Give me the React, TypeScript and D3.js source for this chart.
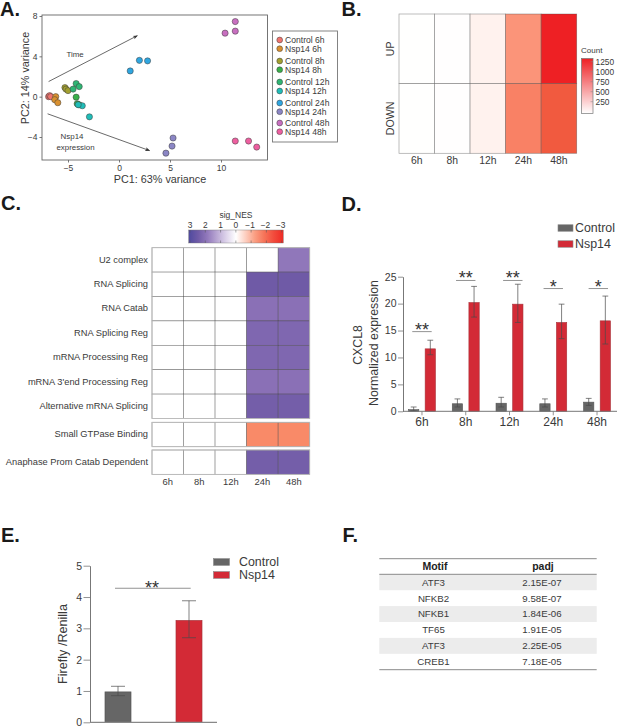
import React, { useEffect, useRef } from 'react';
import * as d3 from 'd3';

const FONT = '"Liberation Sans", Arial, sans-serif';
const TEXT = '#3a3a3a';
const GREY = '#666666';
const RED = '#d32a36';

// A: PCA
const pcaGroups = ['Control 6h', 'Nsp14 6h', 'Control 8h', 'Nsp14 8h', 'Control 12h', 'Nsp14 12h', 'Control 24h', 'Nsp14 24h', 'Control 48h', 'Nsp14 48h'];
const pcaColors = ['#f0746e', '#d9902f', '#a3a030', '#39b04a', '#2fb573', '#20bdb8', '#2fa6e0', '#8b86c5', '#c86fc0', '#ee5fa0'];
const pcaPC1 = [
  [-6.9, -6.8, -6.7], [-6.2, -6.3, -6.0], [-5.3, -5.2, -5.0], [-4.2, -4.1, -3.9], [-4.2, -3.9, -4.5],
  [-3.6, -2.9, -4.0], [2.0, 2.8, 1.1], [5.3, 5.2, 4.6], [11.4, 11.4, 10.4], [11.4, 12.7, 13.5],
];
const pcaPC2 = [
  [0.0, 0.1, 0.0], [0.0, -0.3, -0.6], [0.9, 0.75, 0.6], [-0.05, -0.7, -0.8], [1.3, 1.0, 0.75],
  [-0.9, -2.0, -0.8], [3.6, 3.55, 2.55], [-4.1, -4.9, -5.6], [7.45, 6.5, 6.3], [-4.4, -4.4, -5.0],
];

// B: DE gene counts
const timePoints = ['6h', '8h', '12h', '24h', '48h'];
const countRows = ['UP', 'DOWN'];
const countUp = [2, 4, 60, 560, 1300];
const countDown = [2, 4, 60, 690, 1000];
const countTicks = [250, 500, 750, 1000, 1250];

// C: NES heatmap
const nesBlocks = [
  ['U2 complex', 'RNA Splicing', 'RNA Catab', 'RNA Splicing Reg', 'mRNA Processing Reg', "mRNA 3'end Processing Reg", 'Alternative mRNA Splicing'],
  ['Small GTPase Binding'],
  ['Anaphase Prom Catab Dependent'],
];
const nes24h = [0, 2.5, 2.0, 2.2, 2.2, 2.0, 2.4, -1.5, 2.4];
const nes48h = [1.9, 2.5, 2.0, 2.2, 2.2, 2.0, 2.4, -1.5, 2.4];
const nesTicks = [3, 2, 1, 0, -1, -2, -3];

// D: CXCL8
const groups = ['Control', 'Nsp14'];
const cxclControl = [0.3, 1.4, 1.5, 1.4, 1.7];
const cxclControlLo = [0.1, 0.8, 0.8, 0.8, 1.1];
const cxclControlHi = [0.8, 2.3, 2.6, 2.3, 2.4];
const cxclNsp = [11.6, 20.2, 19.9, 16.5, 16.8];
const cxclNspLo = [10.5, 17.5, 16.5, 13.5, 12.5];
const cxclNspHi = [13.2, 23.2, 23.6, 19.9, 21.4];
const cxclSig = ['**', '**', '**', '*', '*'];
const cxclSigLevel = [14.8, 24.3, 24.3, 22.8, 22.8];

// E: luciferase
const lucValues = [0.97, 3.25];
const lucLo = [0.85, 2.7];
const lucHi = [1.15, 3.88];
const lucSigLevel = 4.28;

// F: motif table
const motifs = ['ATF3', 'NFKB2', 'NFKB1', 'TF65', 'ATF3', 'CREB1'];
const padj = ['2.15E-07', '9.58E-07', '1.84E-06', '1.91E-05', '2.25E-05', '7.18E-05'];

type G = d3.Selection<any, unknown, null, undefined>;

const label = (g: G, x: number, y: number, s: string, size: number, anchor = 'middle', weight = 'normal', fill = TEXT) =>
  g.append('text').attr('x', x).attr('y', y).attr('dy', '0.35em').attr('text-anchor', anchor)
    .attr('font-size', size).attr('font-weight', weight).attr('fill', fill).text(s);

const vLabel = (g: G, x: number, y: number, s: string, size: number) =>
  g.append('text').attr('transform', `translate(${x},${y}) rotate(-90)`).attr('dy', '0.35em')
    .attr('text-anchor', 'middle').attr('font-size', size).attr('fill', TEXT).text(s);

const styleAxis = (a: G, size: number, color = '#777') => {
  a.selectAll('text').attr('font-size', size).attr('font-family', FONT).attr('fill', TEXT);
  a.selectAll('line').attr('stroke', color).attr('stroke-width', 0.8);
  a.selectAll('.domain').attr('stroke', color).attr('stroke-width', 1);
};

const errorBar = (g: G, x: number, y0: number, y1: number, cap: number) => {
  g.append('line').attr('x1', x).attr('x2', x).attr('y1', y0).attr('y2', y1);
  g.append('line').attr('x1', x - cap).attr('x2', x + cap).attr('y1', y0).attr('y2', y0);
  g.append('line').attr('x1', x - cap).attr('x2', x + cap).attr('y1', y1).attr('y2', y1);
};

const swatchLegend = (g: G, x: number, w: number, h: number, tx: number, ys: number[], size: number) => {
  groups.forEach((name, i) => {
    g.append('rect').attr('x', x).attr('y', ys[i] - h / 2).attr('width', w).attr('height', h)
      .attr('fill', i === 0 ? GREY : RED).attr('stroke', '#888').attr('stroke-width', 0.6);
    label(g, tx, ys[i], name, size, 'start');
  });
};

function drawPca(root: G) {
  const g = root.append('g');
  const x = d3.scaleLinear().domain([-5, 10]).range([68, 221]);
  const y = d3.scaleLinear().domain([-4, 8]).range([137, 16]);
  const ax = g.append('g').attr('transform', 'translate(0,160)')
    .call(d3.axisBottom(x).tickValues([-5, 0, 5, 10]).tickSize(2.5).tickPadding(2).tickFormat(d3.format('d') as any));
  ax.select('.domain').remove();
  styleAxis(ax, 8.5, '#555');
  const ay = g.append('g').attr('transform', 'translate(42,0)')
    .call(d3.axisLeft(y).tickValues([-4, 0, 4, 8]).tickSize(2.5).tickPadding(2).tickFormat(d3.format('d') as any));
  ay.select('.domain').remove();
  styleAxis(ay, 8.5, '#555');
  g.append('rect').attr('x', 42).attr('y', 15).attr('width', 225.5).attr('height', 145)
    .attr('fill', 'none').attr('stroke', '#666').attr('stroke-width', 0.9);

  pcaGroups.forEach((_, i) => {
    g.append('g').selectAll('circle').data(d3.range(3)).join('circle')
      .attr('cx', (d) => x(pcaPC1[i][d])).attr('cy', (d) => y(pcaPC2[i][d])).attr('r', 3.1)
      .attr('fill', pcaColors[i]).attr('stroke', '#3c3c3c').attr('stroke-width', 0.5);
  });

  const arrow = (x1: number, y1: number, x2: number, y2: number) => {
    g.append('line').attr('x1', x1).attr('y1', y1).attr('x2', x2).attr('y2', y2)
      .attr('stroke', '#444').attr('stroke-width', 0.8).attr('marker-end', 'url(#arrowHead)');
  };
  arrow(x(-6.9), y(1.5), x(1.8), y(6.05));
  arrow(x(-7.0), y(-1.7), x(3.0), y(-5.35));
  label(g, 75, 54, 'Time', 7.9);
  label(g, 72, 136.5, 'Nsp14', 7.9);
  label(g, 75.5, 147, 'expression', 7.9);
  label(g, 160, 179, 'PC1: 63% variance', 10.8);
  vLabel(g, 25, 78, 'PC2: 14% variance', 10.8);

  g.append('rect').attr('x', 272.5).attr('y', 31).attr('width', 65).attr('height', 111)
    .attr('fill', 'none').attr('stroke', '#777').attr('stroke-width', 0.9);
  const legendY = [40, 48.7, 61, 69.7, 82, 91, 103, 111.7, 123, 131.7];
  pcaGroups.forEach((name, i) => {
    g.append('circle').attr('cx', 279.7).attr('cy', legendY[i]).attr('r', 2.9)
      .attr('fill', pcaColors[i]).attr('stroke', '#3c3c3c').attr('stroke-width', 0.5);
    label(g, 285, legendY[i], name, 8.6, 'start');
  });
}

function drawCounts(root: G) {
  const g = root.append('g');
  const x = d3.scaleBand().domain(timePoints).range([399, 576.7]);
  const y = d3.scaleBand().domain(countRows).range([14, 153.3]);
  const color = d3.scaleLinear<string>().domain([0, 60, 600, 1000, 1300])
    .range(['#ffffff', '#fff2ee', '#fb8c70', '#f15a3f', '#ee2024']);
  [countUp, countDown].forEach((vals, r) => {
    g.append('g').selectAll('rect').data(vals).join('rect')
      .attr('x', (_, i) => x(timePoints[i])!).attr('y', y(countRows[r])!)
      .attr('width', x.bandwidth()).attr('height', y.bandwidth())
      .attr('fill', (d) => color(d)).attr('stroke', 'rgba(70,70,70,0.5)').attr('stroke-width', 0.7);
  });
  timePoints.forEach((t) => label(g, x(t)! + x.bandwidth() / 2, 160, t, 10.4));
  countRows.forEach((r) => vLabel(g, 390, y(r)! + y.bandwidth() / 2, r, 10.6));

  const ly = d3.scaleLinear().domain([0, 1250]).range([111.7, 61.7]);
  const grad = root.select('defs').append('linearGradient').attr('id', 'countGrad')
    .attr('x1', 0).attr('x2', 0).attr('y1', 1).attr('y2', 0);
  d3.range(0, 1.01, 0.1).forEach((t) => {
    grad.append('stop').attr('offset', t).attr('stop-color', d3.interpolateRgb('#ffffff', '#ee2024')(t));
  });
  g.append('text').attr('x', 581).attr('y', 50.5).attr('dy', '0.35em').attr('font-size', 8).attr('fill', TEXT).text('Count');
  g.append('rect').attr('x', 581.5).attr('y', 58.5).attr('width', 11.5).attr('height', 55)
    .attr('fill', 'url(#countGrad)').attr('stroke', '#777').attr('stroke-width', 0.7);
  countTicks.forEach((t) => {
    g.append('line').attr('x1', 590.5).attr('x2', 593).attr('y1', ly(t)).attr('y2', ly(t)).attr('stroke', '#888').attr('stroke-width', 0.5);
    label(g, 595.5, ly(t), String(t), 8.4, 'start');
  });
}

function drawNes(root: G) {
  const g = root.append('g');
  const x = d3.scaleBand().domain(timePoints).range([152, 309.7]);
  const color = d3.scaleLinear<string>().domain([3, 2.5, 2, 1, 0, -1.5, -3])
    .range(['#4f4a9f', '#6f5aa6', '#8a70b6', '#c9bade', '#ffffff', '#f98a68', '#ee2a24']);
  const blockTop = [247.7, 422.3, 450];
  const rowH = 24.4;
  let idx = 0;
  nesBlocks.forEach((names, b) => {
    names.forEach((name, r) => {
      const top = blockTop[b] + r * rowH;
      const vals = [0, 0, 0, nes24h[idx], nes48h[idx]];
      g.append('g').selectAll('rect').data(vals).join('rect')
        .attr('x', (_, i) => x(timePoints[i])!).attr('y', top)
        .attr('width', x.bandwidth()).attr('height', rowH)
        .attr('fill', (d) => color(d)).attr('stroke', 'rgba(60,60,60,0.6)').attr('stroke-width', 0.6);
      label(g, 148, top + rowH / 2 - 0.5, name, 9.3, 'end');
      idx += 1;
    });
    g.append('rect').attr('x', 152).attr('y', blockTop[b]).attr('width', 157.7).attr('height', names.length * rowH)
      .attr('fill', 'none').attr('stroke', '#bdbdbd').attr('stroke-width', 0.9);
  });
  timePoints.forEach((t) => label(g, x(t)! + x.bandwidth() / 2, 481.7, t, 9.4));

  const bar = d3.scaleLinear().domain([3, -3]).range([190, 281.7]);
  const grad = root.select('defs').append('linearGradient').attr('id', 'nesGrad');
  d3.range(3.1, -3.11, -0.62).forEach((v) => {
    grad.append('stop').attr('offset', (3.1 - v) / 6.2).attr('stop-color', color(Math.max(-3, Math.min(3, v))));
  });
  label(g, 236, 215, 'sig_NES', 8.5);
  g.append('rect').attr('x', 188.7).attr('y', 230).attr('width', 94.6).attr('height', 13)
    .attr('fill', 'url(#nesGrad)').attr('stroke', '#777').attr('stroke-width', 0.4);
  nesTicks.forEach((t) => {
    g.append('line').attr('x1', bar(t)).attr('x2', bar(t)).attr('y1', 230).attr('y2', 232.5).attr('stroke', '#555').attr('stroke-width', 0.5);
    g.append('line').attr('x1', bar(t)).attr('x2', bar(t)).attr('y1', 240.5).attr('y2', 243).attr('stroke', '#555').attr('stroke-width', 0.5);
    label(g, bar(t) - (t < 0 ? 1 : 0), 225.3, t < 0 ? `\u2212${-t}` : String(t), 8.4);
  });
}

function drawCxcl(root: G) {
  const g = root.append('g');
  const x = d3.scaleBand().domain(timePoints).range([400.1, 618.9]);
  const sub = d3.scaleBand().domain(groups).range([0, x.bandwidth()]).paddingInner(0.38).paddingOuter(0.505);
  const y = d3.scaleLinear().domain([0, 25]).range([411.3, 276.7]);

  const series = [
    { name: 'Control', vals: cxclControl, lo: cxclControlLo, hi: cxclControlHi, fill: GREY, stroke: '#555' },
    { name: 'Nsp14', vals: cxclNsp, lo: cxclNspLo, hi: cxclNspHi, fill: RED, stroke: '#a8323a' },
  ];
  series.forEach((s) => {
    g.append('g').selectAll('rect').data(s.vals).join('rect')
      .attr('x', (_, i) => x(timePoints[i])! + sub(s.name)!).attr('y', (d) => y(d))
      .attr('width', sub.bandwidth()).attr('height', (d) => y(0) - y(d))
      .attr('fill', s.fill).attr('stroke', s.stroke).attr('stroke-width', 0.6);
    const e = g.append('g').attr('stroke', '#4a4a4a').attr('stroke-width', 0.7);
    s.vals.forEach((_, i) => {
      errorBar(e, x(timePoints[i])! + sub(s.name)! + sub.bandwidth() / 2, y(s.lo[i]), y(s.hi[i]), 2.9);
    });
  });

  const ay = g.append('g').attr('transform', 'translate(403,0)')
    .call(d3.axisLeft(y).tickValues([0, 5, 10, 15, 20, 25]).tickSize(5).tickPadding(1.5).tickSizeOuter(0).tickFormat(d3.format('d') as any));
  styleAxis(ay, 10.5);
  const ax = g.append('g').attr('transform', 'translate(0,411.3)')
    .call(d3.axisBottom(x).tickSize(4).tickPadding(2.5));
  ax.select('.domain').remove();
  styleAxis(ax, 12);
  g.append('line').attr('x1', 403).attr('x2', 617).attr('y1', 411.3).attr('y2', 411.3).attr('stroke', '#777').attr('stroke-width', 1);

  const sigShift = [0, 0, 3.3, 0, 1.3];
  cxclSig.forEach((s, i) => {
    const cx = x(timePoints[i])! + x.bandwidth() / 2 + sigShift[i];
    g.append('line').attr('x1', cx - 9.7).attr('x2', cx + 9.7).attr('y1', y(cxclSigLevel[i])).attr('y2', y(cxclSigLevel[i]))
      .attr('stroke', '#777').attr('stroke-width', 0.8);
    g.append('text').attr('x', cx).attr('y', y(cxclSigLevel[i]) + 4).attr('text-anchor', 'middle')
      .attr('font-size', 18).attr('fill', '#333').text(s);
  });

  vLabel(g, 358, 345, 'CXCL8', 12.3);
  vLabel(g, 374, 343, 'Normalized expression', 12.4);
  swatchLegend(g, 558, 15, 6.5, 575, [228, 244], 12.4);
}

function drawLuc(root: G) {
  const g = root.append('g');
  const x = d3.scaleBand().domain(groups).range([82.5, 224.5]).paddingInner(0.634).paddingOuter(0.317);
  const y = d3.scaleLinear().domain([0, 5]).range([722.3, 565.7]);
  g.selectAll('rect.lucBar').data(lucValues).join('rect').attr('class', 'lucBar')
    .attr('x', (_, i) => x(groups[i])!).attr('y', (d) => y(d))
    .attr('width', x.bandwidth()).attr('height', (d) => y(0) - y(d))
    .attr('fill', (_, i) => (i === 0 ? GREY : RED)).attr('stroke', (_, i) => (i === 0 ? '#555' : '#a8323a')).attr('stroke-width', 0.7);
  const e = g.append('g').attr('stroke', '#4a4a4a').attr('stroke-width', 0.7);
  lucValues.forEach((_, i) => {
    errorBar(e, x(groups[i])! + x.bandwidth() / 2, y(lucLo[i]), y(lucHi[i]), 7);
  });
  const ay = g.append('g').attr('transform', 'translate(90,0)')
    .call(d3.axisLeft(y).tickValues([0, 1, 2, 3, 4, 5]).tickSize(6.5).tickPadding(1.5).tickSizeOuter(0).tickFormat(d3.format('d') as any));
  styleAxis(ay, 10.5);
  g.append('line').attr('x1', 90).attr('x2', 217).attr('y1', 722.3).attr('y2', 722.3).attr('stroke', '#888').attr('stroke-width', 1.2);
  g.append('line').attr('x1', 115).attr('x2', 190.7).attr('y1', y(lucSigLevel)).attr('y2', y(lucSigLevel)).attr('stroke', '#777').attr('stroke-width', 0.8);
  g.append('text').attr('x', 152).attr('y', y(lucSigLevel) + 5.5).attr('text-anchor', 'middle').attr('font-size', 18).attr('fill', '#333').text('**');
  vLabel(g, 62.7, 644, 'Firefly /Renilla', 12.6);
  swatchLegend(g, 213.5, 16, 6.8, 239, [562, 575], 12.4);
}

function drawTable(root: G) {
  const g = root.append('g');
  const y = d3.scaleBand<number>().domain(d3.range(motifs.length)).range([574.3, 669.7]);
  motifs.forEach((m, i) => {
    if (i % 2 === 0) {
      g.append('rect').attr('x', 379.3).attr('y', y(i)!).attr('width', 217.4).attr('height', y.bandwidth()).attr('fill', '#ececec');
    }
    label(g, 433.5, y(i)! + y.bandwidth() / 2, m, 9.7);
    label(g, 542, y(i)! + y.bandwidth() / 2, padj[i], 9.7);
  });
  [558.7, 574.3, 669.7].forEach((ly) => {
    g.append('line').attr('x1', 379.3).attr('x2', 596.7).attr('y1', ly).attr('y2', ly).attr('stroke', '#8a8a8a').attr('stroke-width', 1);
  });
  label(g, 435, 566.5, 'Motif', 10.5, 'middle', 'bold', '#222');
  label(g, 543, 566.5, 'padj', 10.5, 'middle', 'bold', '#222');
}

const App: React.FC = () => {
  const svgRef = useRef<SVGSVGElement>(null);

  useEffect(() => {
    if (!svgRef.current) return;
    const svg = d3.select(svgRef.current);
    svg.selectAll('*').remove();
    svg.attr('font-family', FONT);

    const defs = svg.append('defs');
    defs.append('marker').attr('id', 'arrowHead').attr('viewBox', '0 0 10 10').attr('refX', 9).attr('refY', 5)
      .attr('markerWidth', 6).attr('markerHeight', 6).attr('orient', 'auto')
      .append('path').attr('d', 'M0,1L10,5L0,9L2.5,5Z').attr('fill', '#333');

    const root = svg as unknown as G;
    drawPca(root);
    drawCounts(root);
    drawNes(root);
    drawCxcl(root);
    drawLuc(root);
    drawTable(root);

    // panel letters
    const letters: [string, number, number][] = [
      ['A.', 0, 16], ['B.', 341.5, 16], ['C.', 1, 210], ['D.', 341.5, 210.5], ['E.', 1, 541.5], ['F.', 342.5, 541.5],
    ];
    letters.forEach(([s, x, y]) => {
      svg.append('text').attr('x', x).attr('y', y).attr('font-size', 20).attr('font-weight', 'bold')
        .attr('fill', '#1a1a1a').text(s);
    });
  }, []);

  return (
    <svg ref={svgRef} width={617} height={726} viewBox="0 0 617 726"
      style={{ position: 'absolute', left: 0, top: 0, background: '#fff' }} />
  );
};

export default App;
